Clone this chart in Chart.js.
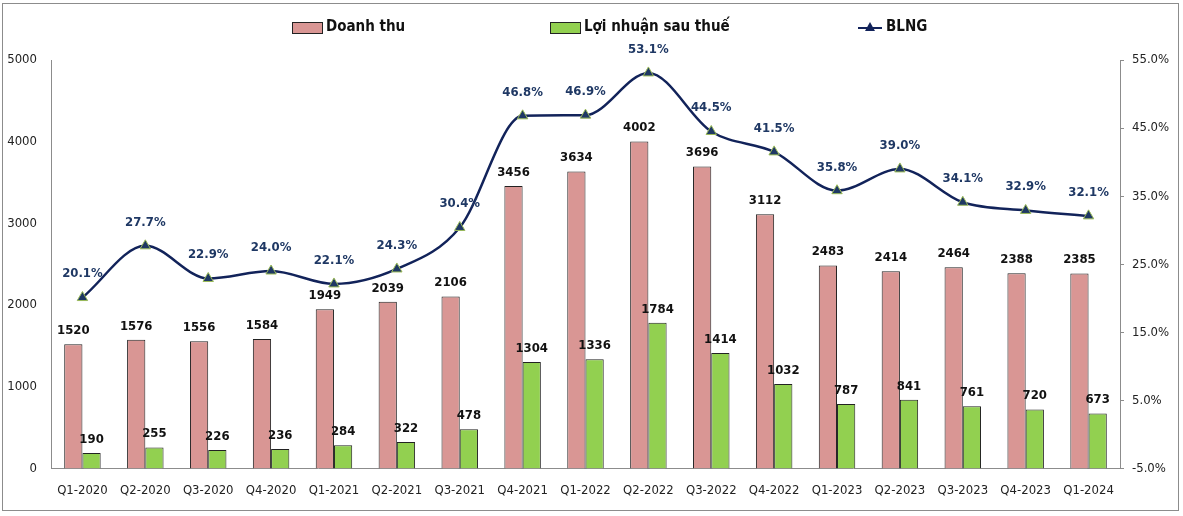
<!DOCTYPE html>
<html lang="vi">
<head>
<meta charset="UTF-8">
<title>Doanh thu, LNST và BLNG</title>
<script src="https://cdn.jsdelivr.net/npm/chart.js"></script>
<style>
  body { margin: 0; background: #fff; }
  #wrap { width: 1183px; height: 516px; }
</style>
</head>
<body>
<div id="wrap"><canvas id="chart" width="1183" height="516"></canvas></div>
<script>
// data
const quarters = ['Q1-2020','Q2-2020','Q3-2020','Q4-2020','Q1-2021','Q2-2021','Q3-2021','Q4-2021',
                  'Q1-2022','Q2-2022','Q3-2022','Q4-2022','Q1-2023','Q2-2023','Q3-2023','Q4-2023','Q1-2024'];
const doanhThu = [1520,1576,1556,1584,1949,2039,2106,3456,3634,4002,3696,3112,2483,2414,2464,2388,2385];
const loiNhuan = [190,255,226,236,284,322,478,1304,1336,1784,1414,1032,787,841,761,720,673];
const blng = [20.1,27.7,22.9,24.0,22.1,24.3,30.4,46.8,46.9,53.1,44.5,41.5,35.8,39.0,34.1,32.9,32.1];

const FONT = '"Liberation Sans Narrow", "DejaVu Sans Condensed", "Open Sans", sans-serif';
const PINK = '#d99694', GREEN = '#92d050', NAVY = '#12235a';

// value labels over bars and line points
const labelPlugin = {
  id: 'labels',
  afterDatasetsDraw(chart) {
    const ctx = chart.ctx;
    ctx.save();
    ctx.textAlign = 'center';
    ctx.textBaseline = 'bottom';
    chart.data.datasets.forEach((ds, i) => {
      const meta = chart.getDatasetMeta(i);
      meta.data.forEach((el, j) => {
        ctx.font = 'bold 13px ' + FONT;
        if (ds.type === 'line') {
          ctx.fillStyle = '#1f3864';
          ctx.fillText(ds.data[j].toFixed(1) + '%', el.x, el.y - 17);
        } else {
          ctx.fillStyle = '#111';
          ctx.fillText(ds.data[j], el.x, el.y - 7);
        }
      });
    });
    ctx.restore();
  }
};

// legend spread across the top + outer frame
const framePlugin = {
  id: 'frame',
  afterDraw(chart) {
    const ctx = chart.ctx;
    ctx.save();
    ctx.strokeStyle = '#8c8c8c';
    ctx.lineWidth = 1;
    ctx.strokeRect(2.5, 3.5, 1176, 507);

    const items = [
      { text: 'Doanh thu', x: 292, kind: 'box', color: PINK },
      { text: 'Lợi nhuận sau thuế', x: 550, kind: 'box', color: GREEN },
      { text: 'BLNG', x: 858, kind: 'line' }
    ];
    const y = 27;
    ctx.font = 'bold 15px ' + FONT;
    ctx.textBaseline = 'middle';
    ctx.textAlign = 'left';
    items.forEach(it => {
      if (it.kind === 'box') {
        ctx.fillStyle = it.color;
        ctx.fillRect(it.x, y - 5, 30, 11);
        ctx.strokeStyle = '#222';
        ctx.strokeRect(it.x + 0.5, y - 4.5, 30, 11);
        ctx.fillStyle = '#111';
        ctx.fillText(it.text, it.x + 34, y);
      } else {
        ctx.strokeStyle = NAVY;
        ctx.lineWidth = 2;
        ctx.beginPath();
        ctx.moveTo(it.x, y + 1);
        ctx.lineTo(it.x + 24, y + 1);
        ctx.stroke();
        ctx.fillStyle = NAVY;
        ctx.beginPath();
        ctx.moveTo(it.x + 12, y - 5);
        ctx.lineTo(it.x + 17, y + 4);
        ctx.lineTo(it.x + 7, y + 4);
        ctx.closePath();
        ctx.fill();
        ctx.fillStyle = '#111';
        ctx.fillText(it.text, it.x + 28, y);
      }
    });
    ctx.restore();
  }
};

new Chart(document.getElementById('chart'), {
  data: {
    labels: quarters,
    datasets: [
      {
        type: 'line',
        label: 'BLNG',
        data: blng,
        yAxisID: 'y1',
        borderColor: NAVY,
        borderWidth: 2.5,
        cubicInterpolationMode: 'monotone',
        pointStyle: 'triangle',
        pointRadius: 6,
        pointBackgroundColor: '#1f3864',
        pointBorderColor: '#9bbb59',
        pointBorderWidth: 1,
        order: 0
      },
      {
        type: 'bar',
        label: 'Doanh thu',
        data: doanhThu,
        yAxisID: 'y',
        backgroundColor: PINK,
        borderColor: '#222',
        borderWidth: 1,
        categoryPercentage: 0.58,
        barPercentage: 1,
        order: 1
      },
      {
        type: 'bar',
        label: 'Lợi nhuận sau thuế',
        data: loiNhuan,
        yAxisID: 'y',
        backgroundColor: GREEN,
        borderColor: '#222',
        borderWidth: 1,
        categoryPercentage: 0.58,
        barPercentage: 1,
        order: 1
      }
    ]
  },
  options: {
    responsive: false,
    animation: false,
    layout: { padding: { top: 60, left: 4, right: 4, bottom: 4 } },
    plugins: {
      legend: { display: false },
      tooltip: { enabled: false }
    },
    scales: {
      x: {
        grid: { display: false, drawTicks: false },
        border: { color: '#8c8c8c' },
        ticks: { color: '#222', font: { family: FONT, size: 13 }, padding: 14, maxRotation: 0, autoSkip: false }
      },
      y: {
        position: 'left',
        min: 0, max: 5000,
        grid: { display: false, drawTicks: false },
        border: { color: '#8c8c8c' },
        ticks: { stepSize: 1000, color: '#222', font: { family: FONT, size: 13 }, padding: 14, callback: v => String(v) },
        afterFit(s) { s.width = 47; }
      },
      y1: {
        position: 'right',
        min: -5, max: 55,
        grid: { display: true, drawOnChartArea: false, tickLength: 4, color: '#8c8c8c' },
        border: { color: '#8c8c8c' },
        ticks: {
          stepSize: 10, color: '#222', font: { family: FONT, size: 13 }, padding: 8,
          callback: v => v.toFixed(1) + '%'
        },
        afterFit(s) { s.width = 59; }
      }
    }
  },
  plugins: [labelPlugin, framePlugin]
});
</script>
</body>
</html>
